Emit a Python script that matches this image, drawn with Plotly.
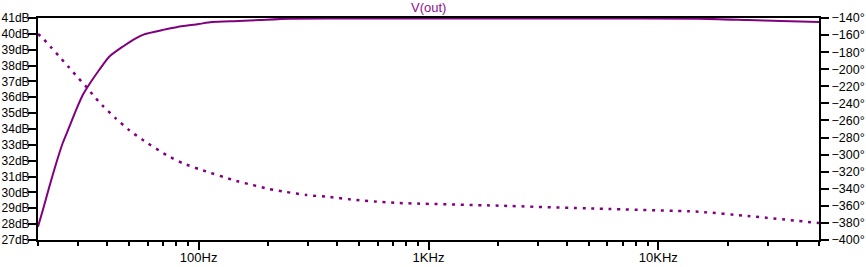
import plotly.graph_objects as go

# Magnitude (dB)
freq_mag = [20, 21.0, 22.4, 24.0, 25.6, 27.4, 29.3, 31.3, 34.0, 36.9, 40.8, 46.7, 53.3, 57.9,
            70, 80, 100, 114, 150, 184, 248, 500, 1000, 5000, 14900, 24600, 34200, 50000]
mag_db = [27.84, 28.89, 30.36, 31.84, 33.10, 34.15, 35.20, 36.14, 36.98, 37.72, 38.56, 39.19, 39.72, 39.97,
          40.25, 40.42, 40.62, 40.75, 40.81, 40.87, 40.96, 40.97, 40.97, 40.97, 40.96, 40.87, 40.81, 40.75]

# Phase (degrees)
freq_phase = [20.0, 21.0, 22.8, 24.8, 27.1, 29.6, 32.4, 35.2, 38.2, 43.6, 49.8, 56.6, 72.4, 85.5,
              101, 146, 171.6, 203, 241, 294, 370, 485, 628, 745, 2023, 5500, 14900, 24600, 50000]
phase_deg = [-158.7, -163.8, -174.3, -185.3, -197.0, -208.7, -220.4, -232.2, -242.7, -257.5,
             -271.2, -282.1, -300.5, -310.2, -317.2, -330.9, -335.6, -340.3, -343.8, -347.3,
             -349.6, -353.2, -355.5, -356.7, -359.8, -363.4, -366.9, -371.9, -380.1]

x_major_vals = [100, 1000, 10000]
x_major_text = ["100Hz", "1KHz", "10KHz"]
x_minor_vals = [20, 30, 40, 50, 60, 70, 80, 90,
                200, 300, 400, 500, 600, 700, 800, 900,
                2000, 3000, 4000, 5000, 6000, 7000, 8000, 9000,
                20000, 30000, 40000, 50000]

trace_color = "#800080"
font_family = "Liberation Sans, Arial, sans-serif"

fig = go.Figure()
fig.add_trace(go.Scatter(x=freq_mag, y=mag_db, mode="lines",
                         line=dict(color=trace_color, width=2, shape="spline", smoothing=0.6),
                         yaxis="y"))
fig.add_trace(go.Scatter(x=freq_phase, y=phase_deg, mode="lines",
                         line=dict(color=trace_color, width=2.5, dash="3px,5.7px",
                                   shape="spline", smoothing=0.6),
                         yaxis="y2"))

fig.update_layout(
    width=866, height=267,
    margin=dict(l=38, r=47, t=18, b=27),
    paper_bgcolor="white", plot_bgcolor="white",
    showlegend=False,
    font=dict(family=font_family, size=13, color="black"),
    xaxis=dict(type="log", range=[1.30103, 4.69897], automargin=False,
               tickvals=x_major_vals, ticktext=x_major_text, ticklabelstandoff=-4,
               ticks="outside", ticklen=8, tickwidth=2, tickcolor="black",
               showline=True, linecolor="black", linewidth=2, mirror=True,
               showgrid=False, zeroline=False,
               minor=dict(tickvals=x_minor_vals, ticks="outside", ticklen=4,
                          tickwidth=2, tickcolor="black", showgrid=False)),
    yaxis=dict(range=[27, 41], dtick=1, tick0=27, ticksuffix="dB", automargin=False,
               ticklabelstandoff=-4, tickfont=dict(size=12),
               ticks="outside", ticklen=8, tickwidth=2, tickcolor="black",
               showline=True, linecolor="black", linewidth=2,
               showgrid=False, zeroline=False),
    yaxis2=dict(range=[-400, -140], dtick=20, tick0=-400, ticksuffix="°", automargin=False,
                overlaying="y", side="right", tickfont=dict(size=12.5),
                ticks="outside", ticklen=8, tickwidth=2, tickcolor="black",
                showline=True, linecolor="black", linewidth=2,
                showgrid=False, zeroline=False),
    annotations=[dict(text="V(out)", xref="paper", yref="paper", x=0.5, y=1,
                      xanchor="center", yanchor="bottom", yshift=1, showarrow=False,
                      font=dict(family=font_family, size=13, color="#8f108f"))],
)

fig.write_html("out.html")
